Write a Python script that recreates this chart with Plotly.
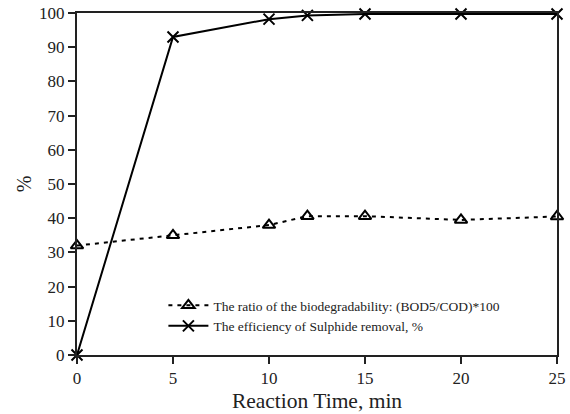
import plotly.graph_objects as go

time_min = [0, 5, 10, 12, 15, 20, 25]
ratio_bio = [32, 35, 38, 40.6, 40.6, 39.5, 40.5]
sulphide_eff = [0, 93, 98.2, 99.3, 99.7, 99.7, 99.7]

x_ticks = [0, 5, 10, 15, 20, 25]
y_ticks = [0, 10, 20, 30, 40, 50, 60, 70, 80, 90, 100]

font_family = "Liberation Serif, Times New Roman, serif"

fig = go.Figure()
fig.add_trace(go.Scatter(
    x=time_min, y=ratio_bio, mode="lines+markers",
    name="The ratio of the biodegradability: (BOD5/COD)*100",
    line=dict(color="black", width=2, dash="4px,5px"),
    marker=dict(symbol="triangle-up-open", size=11, color="black", line=dict(width=2)),
    cliponaxis=False,
))
fig.add_trace(go.Scatter(
    x=time_min, y=sulphide_eff, mode="lines+markers",
    name="The efficiency of Sulphide removal, %",
    line=dict(color="black", width=2),
    marker=dict(symbol="x-thin-open", size=11, color="black", line=dict(width=2, color="black")),
    cliponaxis=False,
))

fig.update_layout(
    width=570, height=414,
    margin=dict(l=77, r=13, t=13, b=59, autoexpand=False),
    paper_bgcolor="white", plot_bgcolor="white",
    font=dict(family=font_family, color="#222"),
    showlegend=True,
    legend=dict(
        x=0.18, y=0.19, xanchor="left", yanchor="top",
        bgcolor="rgba(0,0,0,0)", font=dict(size=13.5, family=font_family),
        tracegroupgap=0, itemwidth=40,
    ),
    xaxis=dict(
        range=[0, 25], tickvals=x_ticks, ticks="outside", ticklen=7, tickwidth=2,
        tickcolor="#222", showline=True, linewidth=2, linecolor="#222", mirror=True,
        showgrid=False, zeroline=False, tickfont=dict(size=17), automargin=False,
        title=dict(text="Reaction Time, min", font=dict(size=21.5), standoff=6),
    ),
    yaxis=dict(
        range=[0, 100], tickvals=y_ticks, ticks="outside", ticklen=7, tickwidth=2,
        tickcolor="#222", showline=True, linewidth=2, linecolor="#222", mirror=True,
        showgrid=False, zeroline=False, tickfont=dict(size=17), automargin=False,
        title=dict(text="%", font=dict(size=20), standoff=2),
    ),
)

fig.write_html("out.html")
